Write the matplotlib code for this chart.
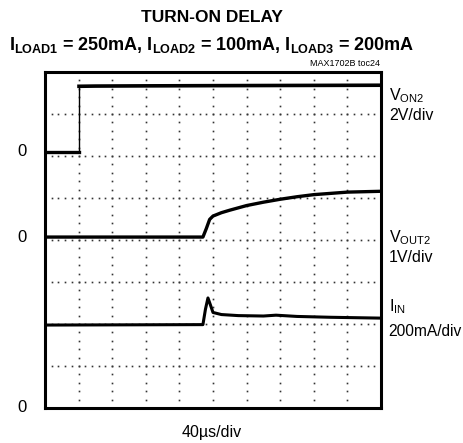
import numpy as np
import matplotlib.pyplot as plt

plt.rcParams['font.family'] = ['Liberation Sans', 'DejaVu Sans']
plt.rcParams['mathtext.fontset'] = 'custom'
plt.rcParams['mathtext.rm'] = 'Liberation Sans'
plt.rcParams['mathtext.bf'] = 'Liberation Sans:bold'

# time in us (40us/div, 10 div)
t_on2 = [0, 40, 40.5, 60, 120, 200, 300, 400]
v_on2 = [0, 0, 3.12, 3.13, 3.14, 3.15, 3.16, 3.17]       # V, 2V/div

t_out2 = [0, 188, 192, 196, 200, 210, 220, 240, 260, 280, 300, 320, 340, 360, 380, 400]
v_out2 = [0, 0, 0.2, 0.42, 0.5, 0.58, 0.64, 0.75, 0.83, 0.9, 0.96, 1.01, 1.04, 1.07, 1.08, 1.09]  # V, 1V/div

t_in = [0, 188, 191, 194, 197, 200, 210, 230, 260, 275, 300, 340, 370, 400]
i_in = [395, 397, 470, 524, 490, 455, 445, 440, 438, 442, 436, 432, 430, 428]  # mA, 200mA/div

# zero positions (in divisions from bottom) and scales
off_on2, sc_on2 = 6.1, 2.0
off_out2, sc_out2 = 4.07, 1.0
off_in, sc_in = 0.0, 200.0

fig = plt.figure(figsize=(4.64, 4.43), dpi=100)
ax = fig.add_axes([45/464, 35/443, 336/464, 336/443])
ax.set_xlim(0, 400)
ax.set_ylim(0, 8)

# dotted graticule
for i in range(1, 10):
    ys = np.arange(0, 8.01, 0.2)
    ax.plot(np.full_like(ys, i*40), ys, ls='none', marker='s', ms=1.2, mew=0, color='#333333')
for j in range(1, 8):
    xs = np.arange(0, 400.1, 8)
    ax.plot(xs, np.full_like(xs, j), ls='none', marker='s', ms=1.2, mew=0, color='#333333')

ax.plot(t_on2[:2], [off_on2, off_on2], color='black', lw=2.4)
ax.plot([40.5, 40.5], [off_on2, off_on2 + v_on2[2]/sc_on2], color='black', lw=1.0)
ax.plot(t_on2[2:], off_on2 + np.array(v_on2[2:])/sc_on2, color='black', lw=2.6)
ax.plot(t_out2, off_out2 + np.array(v_out2)/sc_out2, color='black', lw=2.4)
ax.plot(t_in, off_in + np.array(i_in)/sc_in, color='black', lw=2.2)

ax.set_xticks([])
ax.set_yticks([])
for s in ax.spines.values():
    s.set_linewidth(2.2)

# zero markers on the left
for off in [off_on2, off_out2, off_in]:
    ax.text(-23/33.6*40, off, '0', ha='center', va='center', fontsize=12)

# right-hand labels
fs = 11.5
fig.text(389/464, 1 - 96/443, r'V$_{\mathrm{ON2}}$', fontsize=fs, va='center')
fig.text(389/464, 1 - 115/443, '2V/div', fontsize=fs, va='center')
fig.text(389/464, 1 - 238/443, r'V$_{\mathrm{OUT2}}$', fontsize=fs, va='center')
fig.text(389/464, 1 - 257/443, '1V/div', fontsize=fs, va='center')
fig.text(389/464, 1 - 307/443, r'I$_{\mathrm{IN}}$', fontsize=fs, va='center')
fig.text(388/464, 1 - 331/443, '200mA/div', fontsize=fs - 0.3, va='center')

fig.text(212/464, 1 - 18/443, 'TURN-ON DELAY', fontsize=12.5, fontweight='bold', ha='center', va='center')
fig.text(212/464, 1 - 45/443,
         r'$\mathbf{I_{LOAD1}}$ = 250mA, $\mathbf{I_{LOAD2}}$ = 100mA, $\mathbf{I_{LOAD3}}$ = 200mA',
         fontsize=13, fontweight='bold', ha='center', va='center')
fig.text(380/464, 1 - 63/443, 'MAX1702B toc24', fontsize=6.5, ha='right', va='center')
fig.text(212/464, 1 - 432/443, '40\u00b5s/div', fontsize=11.5, ha='center', va='center')

fig.savefig('out.png', dpi=100)
